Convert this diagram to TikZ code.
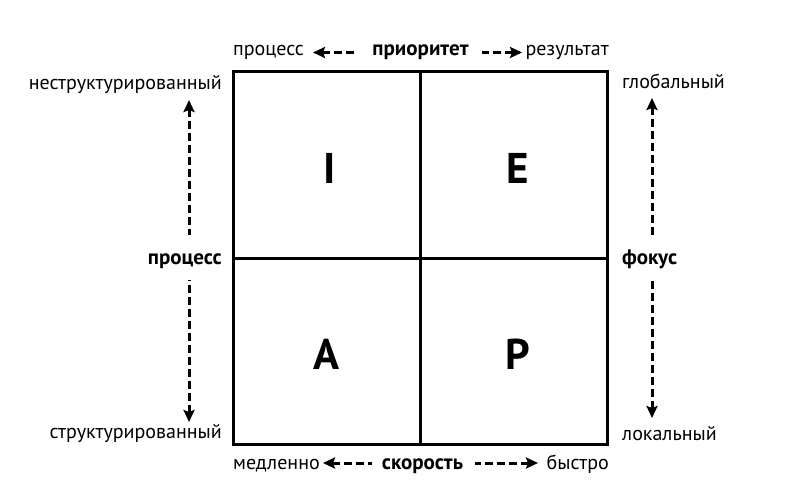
\documentclass[tikz,border=0pt]{standalone}
\usepackage{fontspec}
\setmainfont{PT Sans}
\usetikzlibrary{arrows.meta}
\begin{document}
\begin{tikzpicture}[x=1pt,y=1pt,
  lbl/.style={inner sep=0pt,font=\fontsize{20}{23}\selectfont},
  blbl/.style={lbl,font=\fontsize{21}{24}\selectfont\bfseries},
  big/.style={inner sep=0pt,font=\fontsize{43}{50}\selectfont\bfseries},
  darr/.style={line width=3pt,dash pattern=on 8pt off 4pt,{Stealth[length=12pt,width=11pt,inset=2pt]}-},
  frame/.style={line width=3pt}]
\useasboundingbox (0,0) rectangle (786,-495);
% frame
\coordinate (tl) at (233,-71);
\coordinate (br) at (607,-444);
\coordinate (tm) at (420,-71);
\coordinate (bm) at (420,-444);
\coordinate (lm) at (233,-258);
\coordinate (rm) at (607,-258);
\draw[frame] (tl) rectangle (br);
\draw[frame] (tm) -- (bm);
\draw[frame] (lm) -- (rm);
% quadrant letters
\node[big,anchor=base] (qi) at (330,-183) {I};
\node[big,anchor=base] (qe) at (518,-183) {E};
\node[big,anchor=base] (qa) at (327,-369) {A};
\node[big,anchor=base] (qp) at (518,-369) {P};
% top
\node[lbl,anchor=base west] (tproc) at (233,-56) {процесс};
\node[blbl,anchor=base] (tprio) at (420.5,-56) {приоритет};
\node[lbl,anchor=base east] (tres) at (609,-56) {результат};
\coordinate (t1tip) at (313,-52.5);
\coordinate (t1s) at (358,-52.5);
\coordinate (t2tip) at (522,-52.5);
\coordinate (t2s) at (482,-52.5);
\draw[darr] (t1tip) -- (t1s);
\draw[darr] (t2tip) -- (t2s);
% bottom
\node[lbl,anchor=base west] (bslow) at (233,-469) {медленно};
\node[blbl,anchor=base] (bspeed) at (422.5,-469) {скорость};
\node[lbl,anchor=base east] (bfast) at (609,-469) {быстро};
\coordinate (b1tip) at (323,-463);
\coordinate (b1s) at (372,-463);
\coordinate (b2tip) at (538,-463);
\coordinate (b2s) at (475,-463);
\draw[darr] (b1tip) -- (b1s);
\draw[darr] (b2tip) -- (b2s);
% left
\node[lbl,anchor=base east] (lun) at (222,-89) {неструктурированный};
\node[blbl,anchor=base east] (lproc) at (222,-264) {процесс};
\node[lbl,anchor=base east] (lst) at (222,-438) {структурированный};
\coordinate (l1tip) at (189,-100);
\coordinate (l1s) at (189,-235);
\coordinate (l2tip) at (189,-422);
\coordinate (l2s) at (189,-280);
\draw[darr] (l1tip) -- (l1s);
\draw[darr] (l2tip) -- (l2s);
% right
\node[lbl,anchor=base west] (rgl) at (622,-88) {глобальный};
\node[blbl,anchor=base west] (rfoc) at (622,-264) {фокус};
\node[lbl,anchor=base west] (rloc) at (622,-440) {локальный};
\coordinate (r1tip) at (652,-98);
\coordinate (r1s) at (652,-235);
\coordinate (r2tip) at (652,-418);
\coordinate (r2s) at (652,-278);
\draw[darr] (r1tip) -- (r1s);
\draw[darr] (r2tip) -- (r2s);
\end{tikzpicture}
\end{document}
